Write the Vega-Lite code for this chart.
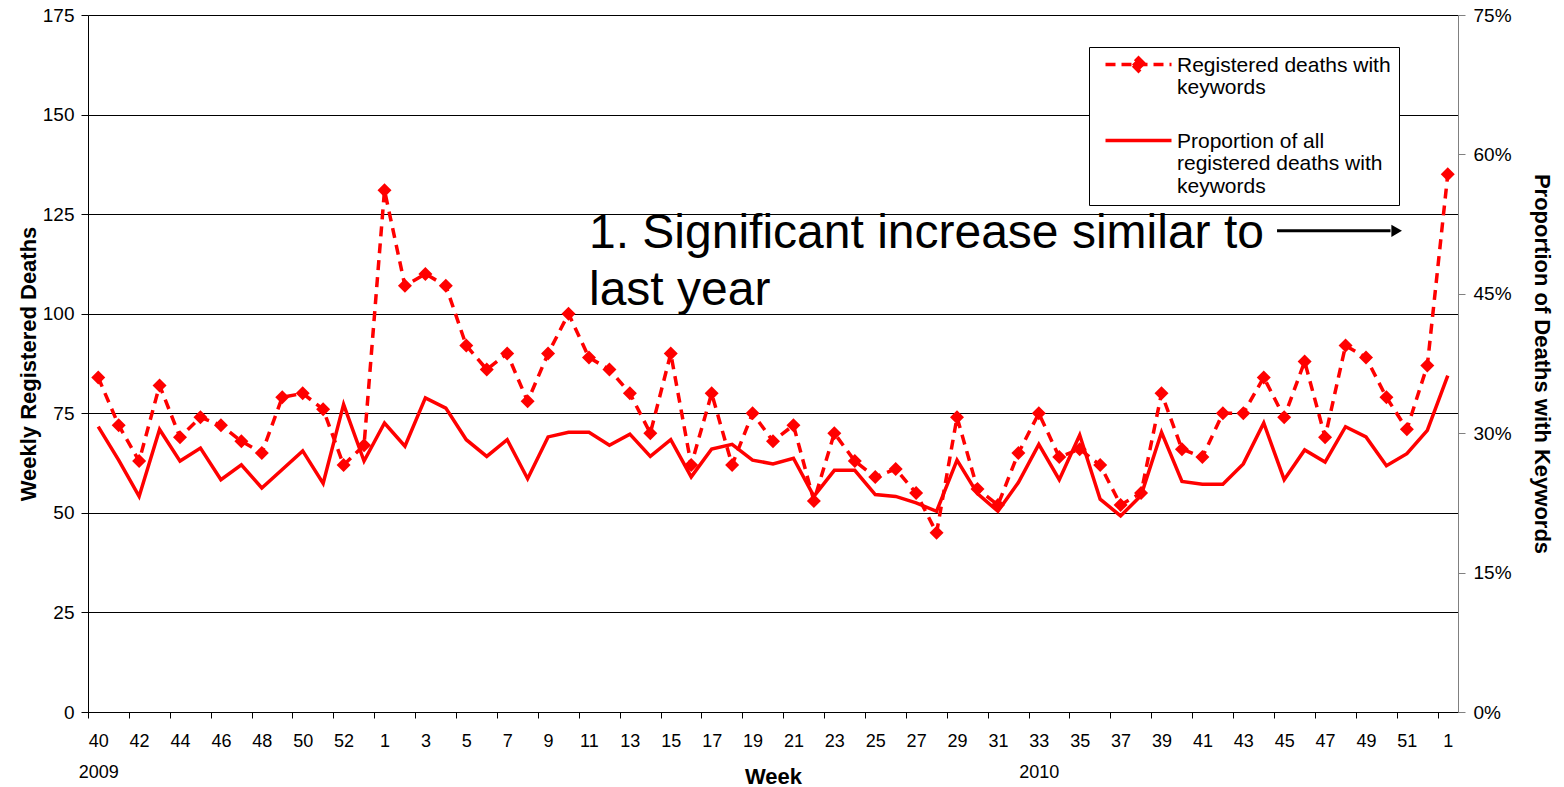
{
  "$schema": "https://vega.github.io/schema/vega-lite/v6.json",
  "width": 1370,
  "height": 697,
  "autosize": {"type": "none"},
  "padding": {"left": 88, "top": 15, "right": 106, "bottom": 75},
  "background": "white",
  "config": {
    "font": "Liberation Sans",
    "view": {"stroke": null},
    "axis": {"labelFont": "Liberation Sans", "titleFont": "Liberation Sans", "labelColor": "#000", "titleColor": "#000"}
  },
  "data": {
    "values": [
      {"i": 0, "year": 2009, "week": 40, "deaths": 84, "prop": 0.307},
      {"i": 1, "year": 2009, "week": 41, "deaths": 72, "prop": 0.271},
      {"i": 2, "year": 2009, "week": 42, "deaths": 63, "prop": 0.232},
      {"i": 3, "year": 2009, "week": 43, "deaths": 82, "prop": 0.304},
      {"i": 4, "year": 2009, "week": 44, "deaths": 69, "prop": 0.270},
      {"i": 5, "year": 2009, "week": 45, "deaths": 74, "prop": 0.284},
      {"i": 6, "year": 2009, "week": 46, "deaths": 72, "prop": 0.250},
      {"i": 7, "year": 2009, "week": 47, "deaths": 68, "prop": 0.266},
      {"i": 8, "year": 2009, "week": 48, "deaths": 65, "prop": 0.241},
      {"i": 9, "year": 2009, "week": 49, "deaths": 79, "prop": 0.261},
      {"i": 10, "year": 2009, "week": 50, "deaths": 80, "prop": 0.281},
      {"i": 11, "year": 2009, "week": 51, "deaths": 76, "prop": 0.246},
      {"i": 12, "year": 2009, "week": 52, "deaths": 62, "prop": 0.331},
      {"i": 13, "year": 2009, "week": 53, "deaths": 67, "prop": 0.270},
      {"i": 14, "year": 2010, "week": 1, "deaths": 131, "prop": 0.311},
      {"i": 15, "year": 2010, "week": 2, "deaths": 107, "prop": 0.286},
      {"i": 16, "year": 2010, "week": 3, "deaths": 110, "prop": 0.338},
      {"i": 17, "year": 2010, "week": 4, "deaths": 107, "prop": 0.327},
      {"i": 18, "year": 2010, "week": 5, "deaths": 92, "prop": 0.293},
      {"i": 19, "year": 2010, "week": 6, "deaths": 86, "prop": 0.275},
      {"i": 20, "year": 2010, "week": 7, "deaths": 90, "prop": 0.293},
      {"i": 21, "year": 2010, "week": 8, "deaths": 78, "prop": 0.251},
      {"i": 22, "year": 2010, "week": 9, "deaths": 90, "prop": 0.296},
      {"i": 23, "year": 2010, "week": 10, "deaths": 100, "prop": 0.301},
      {"i": 24, "year": 2010, "week": 11, "deaths": 89, "prop": 0.301},
      {"i": 25, "year": 2010, "week": 12, "deaths": 86, "prop": 0.287},
      {"i": 26, "year": 2010, "week": 13, "deaths": 80, "prop": 0.299},
      {"i": 27, "year": 2010, "week": 14, "deaths": 70, "prop": 0.275},
      {"i": 28, "year": 2010, "week": 15, "deaths": 90, "prop": 0.293},
      {"i": 29, "year": 2010, "week": 16, "deaths": 62, "prop": 0.253},
      {"i": 30, "year": 2010, "week": 17, "deaths": 80, "prop": 0.283},
      {"i": 31, "year": 2010, "week": 18, "deaths": 62, "prop": 0.288},
      {"i": 32, "year": 2010, "week": 19, "deaths": 75, "prop": 0.271},
      {"i": 33, "year": 2010, "week": 20, "deaths": 68, "prop": 0.267},
      {"i": 34, "year": 2010, "week": 21, "deaths": 72, "prop": 0.273},
      {"i": 35, "year": 2010, "week": 22, "deaths": 53, "prop": 0.232},
      {"i": 36, "year": 2010, "week": 23, "deaths": 70, "prop": 0.260},
      {"i": 37, "year": 2010, "week": 24, "deaths": 63, "prop": 0.260},
      {"i": 38, "year": 2010, "week": 25, "deaths": 59, "prop": 0.234},
      {"i": 39, "year": 2010, "week": 26, "deaths": 61, "prop": 0.232},
      {"i": 40, "year": 2010, "week": 27, "deaths": 55, "prop": 0.225},
      {"i": 41, "year": 2010, "week": 28, "deaths": 45, "prop": 0.216},
      {"i": 42, "year": 2010, "week": 29, "deaths": 74, "prop": 0.271},
      {"i": 43, "year": 2010, "week": 30, "deaths": 56, "prop": 0.235},
      {"i": 44, "year": 2010, "week": 31, "deaths": 52, "prop": 0.216},
      {"i": 45, "year": 2010, "week": 32, "deaths": 65, "prop": 0.247},
      {"i": 46, "year": 2010, "week": 33, "deaths": 75, "prop": 0.288},
      {"i": 47, "year": 2010, "week": 34, "deaths": 64, "prop": 0.250},
      {"i": 48, "year": 2010, "week": 35, "deaths": 66, "prop": 0.298},
      {"i": 49, "year": 2010, "week": 36, "deaths": 62, "prop": 0.229},
      {"i": 50, "year": 2010, "week": 37, "deaths": 52, "prop": 0.211},
      {"i": 51, "year": 2010, "week": 38, "deaths": 55, "prop": 0.233},
      {"i": 52, "year": 2010, "week": 39, "deaths": 80, "prop": 0.301},
      {"i": 53, "year": 2010, "week": 40, "deaths": 66, "prop": 0.248},
      {"i": 54, "year": 2010, "week": 41, "deaths": 64, "prop": 0.245},
      {"i": 55, "year": 2010, "week": 42, "deaths": 75, "prop": 0.245},
      {"i": 56, "year": 2010, "week": 43, "deaths": 75, "prop": 0.267},
      {"i": 57, "year": 2010, "week": 44, "deaths": 84, "prop": 0.311},
      {"i": 58, "year": 2010, "week": 45, "deaths": 74, "prop": 0.250},
      {"i": 59, "year": 2010, "week": 46, "deaths": 88, "prop": 0.282},
      {"i": 60, "year": 2010, "week": 47, "deaths": 69, "prop": 0.269},
      {"i": 61, "year": 2010, "week": 48, "deaths": 92, "prop": 0.307},
      {"i": 62, "year": 2010, "week": 49, "deaths": 89, "prop": 0.296},
      {"i": 63, "year": 2010, "week": 50, "deaths": 79, "prop": 0.265},
      {"i": 64, "year": 2010, "week": 51, "deaths": 71, "prop": 0.278},
      {"i": 65, "year": 2010, "week": 52, "deaths": 87, "prop": 0.303},
      {"i": 66, "year": 2011, "week": 1, "deaths": 135, "prop": 0.362}
    ]
  },
  "layer": [
    {
      "layer": [
        {
          "mark": {"type": "line", "strokeDash": [10, 7], "strokeWidth": 3.5},
          "encoding": {
            "x": {
              "field": "i",
              "type": "quantitative",
              "scale": {"domain": [-0.5, 66.5], "nice": false, "zero": false},
              "axis": {
                "title": "Week",
                "values": [-0.5, 1.5, 3.5, 5.5, 7.5, 9.5, 11.5, 13.5, 15.5, 17.5, 19.5, 21.5, 23.5, 25.5, 27.5, 29.5, 31.5, 33.5, 35.5, 37.5, 39.5, 41.5, 43.5, 45.5, 47.5, 49.5, 51.5, 53.5, 55.5, 57.5, 59.5, 61.5, 63.5, 65.5],
                "labelExpr": "(datum.value + 0.5) == 0 ? ['40', '2009'] : (datum.value + 0.5) == 46 ? ['33', '2010'] : '' + ((datum.value + 0.5) <= 13 ? datum.value + 40.5 : (datum.value + 0.5) <= 65 ? datum.value - 12.5 : datum.value - 64.5)",
                "labelOffset": 10.22,
                "labelFlush": false,
                "labelOverlap": false,
                "labelBound": false,
                "labelFontSize": 18,
                "labelLineHeight": 31,
                "labelPadding": 14,
                "tickSize": 6,
                "tickColor": "#000",
                "domainColor": "#000",
                "grid": false,
                "titleFontSize": 22,
                "titleFontWeight": "bold",
                "titleBaseline": "alphabetic",
                "titleY": 71
              }
            },
            "y": {
              "field": "deaths",
              "type": "quantitative",
              "scale": {"domain": [0, 175], "nice": false},
              "axis": {
                "title": "Weekly Registered Deaths",
                "values": [0, 25, 50, 75, 100, 125, 150, 175],
                "grid": true,
                "gridColor": "#000",
                "gridOpacity": 1,
                "gridWidth": 1,
                "domainColor": "#000",
                "tickColor": "#000",
                "tickSize": 7,
                "labelFontSize": 19,
                "labelPadding": 7,
                "titleFontSize": 22,
                "titleFontWeight": "bold",
                "titlePadding": 2
              }
            },
            "color": {
              "datum": "Registered deaths with keywords",
              "type": "nominal",
              "scale": {"domain": ["Registered deaths with keywords", "Proportion of all registered deaths with keywords"], "range": ["#FF0000", "#FF0000"]},
              "legend": {
                "orient": "none",
                "legendX": 1001,
                "legendY": 32,
                "title": null,
                "strokeColor": "#000",
                "fillColor": "#fff",
                "padding": 8,
                "labelFont": "Liberation Sans",
                "labelFontSize": 21,
                "labelColor": "#000",
                "labelLimit": 400,
                "labelOffset": 59,
                "symbolSize": 100,
                "symbolStrokeWidth": 3.5,
                "rowPadding": 32,
                "labelExpr": "datum.value == 'Registered deaths with keywords' ? ['Registered deaths with', 'keywords'] : ['Proportion of all', 'registered deaths with', 'keywords']",
                "encode": {
                  "symbols": {
                    "update": {
                      "shape": {"signal": "datum.value == 'Registered deaths with keywords' ? 'M-0.4,-0.2H12.8M6.2,-1.5L7.5,-0.2L6.2,1.1L4.9,-0.2Z' : 'M-0.4,-0.2H12.8'"},
                      "strokeDash": {"signal": "datum.value == 'Registered deaths with keywords' ? [10, 6] : [1, 0]"},
                      "fill": {"value": "#FF0000"},
                      "stroke": {"value": "#FF0000"},
                      "strokeWidth": {"value": 3.5},
                      "opacity": {"value": 1}
                    }
                  },
                  "labels": {"update": {"lineHeight": {"value": 22.5}, "dy": {"value": 0}}}
                }
              }
            }
          }
        },
        {
          "mark": {"type": "point", "shape": "diamond", "filled": true, "size": 196, "opacity": 1},
          "encoding": {
            "x": {"field": "i", "type": "quantitative"},
            "y": {"field": "deaths", "type": "quantitative"},
            "color": {"datum": "Registered deaths with keywords", "type": "nominal"}
          }
        },
        {
          "data": {"values": [{"note": "annotation"}]},
          "mark": {"type": "text", "font": "Liberation Sans", "fontSize": 48, "align": "left", "baseline": "alphabetic", "lineHeight": 57, "color": "#000"},
          "encoding": {
            "x": {"datum": 24, "type": "quantitative"},
            "y": {"datum": 116.5, "type": "quantitative"},
            "text": {"value": ["1. Significant increase similar to", "last year"]}
          }
        },
        {
          "data": {"values": [{"note": "arrow"}]},
          "mark": {"type": "rule", "strokeWidth": 3, "color": "#000"},
          "encoding": {
            "x": {"datum": 57.65, "type": "quantitative"},
            "x2": {"datum": 63.2},
            "y": {"datum": 120.8, "type": "quantitative"}
          }
        },
        {
          "data": {"values": [{"note": "arrowhead"}]},
          "mark": {"type": "point", "shape": "triangle-right", "filled": true, "size": 150, "color": "#000", "opacity": 1},
          "encoding": {
            "x": {"datum": 63.5, "type": "quantitative"},
            "y": {"datum": 120.8, "type": "quantitative"}
          }
        }
      ]
    },
    {
      "mark": {"type": "line", "strokeWidth": 3.5},
      "encoding": {
        "x": {"field": "i", "type": "quantitative"},
        "y": {
          "field": "prop",
          "type": "quantitative",
          "scale": {"domain": [0, 0.75], "nice": false},
          "axis": {
            "orient": "right",
            "title": "Proportion of Deaths with Keywords",
            "values": [0, 0.15, 0.3, 0.45, 0.6, 0.75],
            "format": ".0%",
            "grid": false,
            "domainColor": "#808080",
            "tickColor": "#808080",
            "tickSize": 7,
            "labelFontSize": 19,
            "labelPadding": 8,
            "titleFontSize": 22,
            "titleFontWeight": "bold",
            "titlePadding": 18
          }
        },
        "color": {"datum": "Proportion of all registered deaths with keywords", "type": "nominal"}
      }
    }
  ],
  "resolve": {"scale": {"y": "independent"}}
}
